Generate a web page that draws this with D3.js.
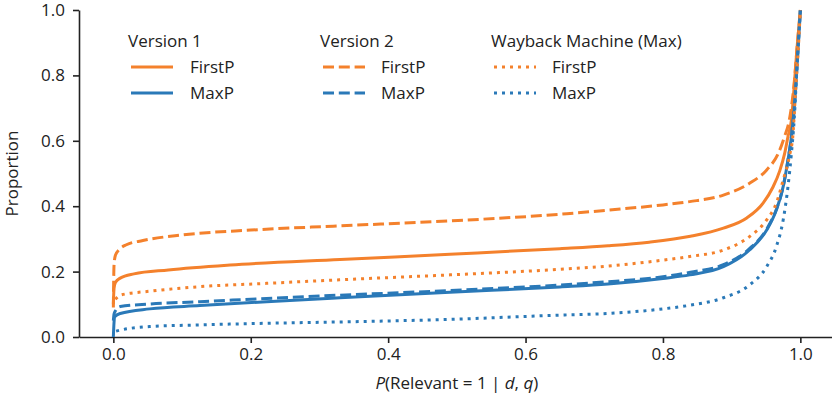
<!DOCTYPE html>
<html>
<head>
<meta charset="utf-8">
<script src="https://cdn.jsdelivr.net/npm/d3@7"></script>
<style>
  body { margin: 0; background: #fff; }
  text { font-family: "Open Sans", sans-serif; fill: #222; }
</style>
</head>
<body>
<svg id="chart" width="832" height="403"></svg>
<script>
// ===== Daten =====
const xTicks = [0.0, 0.2, 0.4, 0.6, 0.8, 1.0];
const yTicks = [0.0, 0.2, 0.4, 0.6, 0.8, 1.0];

const v1FirstPX = [0, 0.001, 0.003, 0.01, 0.03, 0.08, 0.17, 0.33, 0.49, 0.65, 0.72, 0.78, 0.84, 0.888, 0.922, 0.946, 0.960, 0.970, 0.977, 0.982, 0.987, 0.991, 0.995, 1.0];
const v1FirstPY = [0.10, 0.15, 0.167, 0.18, 0.193, 0.205, 0.22, 0.237, 0.253, 0.27, 0.279, 0.29, 0.308, 0.333, 0.364, 0.41, 0.458, 0.508, 0.56, 0.613, 0.664, 0.766, 0.88, 1.0];

const v1MaxPX = [0, 0.001, 0.002, 0.01, 0.053, 0.126, 0.223, 0.33, 0.49, 0.65, 0.72, 0.80, 0.839, 0.888, 0.926, 0.951, 0.965, 0.975, 0.982, 0.987, 0.992, 0.996, 1.0];
const v1MaxPY = [0, 0.045, 0.062, 0.072, 0.086, 0.096, 0.108, 0.12, 0.137, 0.153, 0.162, 0.179, 0.19, 0.215, 0.266, 0.327, 0.388, 0.46, 0.541, 0.613, 0.725, 0.86, 1.0];

const v2FirstPX = [0, 0.001, 0.003, 0.008, 0.019, 0.043, 0.10, 0.20, 0.32, 0.49, 0.66, 0.72, 0.80, 0.839, 0.888, 0.926, 0.951, 0.968, 0.977, 0.984, 0.991, 0.995, 1.0];
const v2FirstPY = [0.09, 0.22, 0.25, 0.266, 0.282, 0.295, 0.312, 0.327, 0.339, 0.355, 0.377, 0.388, 0.404, 0.414, 0.434, 0.47, 0.511, 0.562, 0.613, 0.664, 0.776, 0.878, 1.0];

const v2MaxPX = [0, 0.001, 0.003, 0.01, 0.053, 0.126, 0.223, 0.33, 0.49, 0.65, 0.72, 0.80, 0.84, 0.888, 0.926, 0.951, 0.965, 0.975, 0.982, 0.987, 0.992, 0.996, 1.0];
const v2MaxPY = [0.05, 0.07, 0.08, 0.093, 0.101, 0.108, 0.118, 0.128, 0.142, 0.159, 0.169, 0.184, 0.198, 0.221, 0.27, 0.33, 0.39, 0.46, 0.541, 0.613, 0.725, 0.86, 1.0];

const wbFirstPX = [0.003, 0.01, 0.053, 0.126, 0.223, 0.33, 0.49, 0.65, 0.72, 0.80, 0.839, 0.888, 0.926, 0.951, 0.965, 0.975, 0.985, 0.989, 0.993, 0.997, 1.0];
const wbFirstPY = [0.115, 0.128, 0.14, 0.154, 0.164, 0.175, 0.19, 0.207, 0.217, 0.235, 0.246, 0.266, 0.307, 0.358, 0.409, 0.48, 0.562, 0.613, 0.75, 0.88, 1.0];

const wbMaxPX = [0.004, 0.01, 0.053, 0.126, 0.223, 0.33, 0.49, 0.65, 0.72, 0.80, 0.839, 0.888, 0.926, 0.951, 0.965, 0.975, 0.982, 0.987, 0.991, 0.995, 1.0];
const wbMaxPY = [0.018, 0.021, 0.032, 0.037, 0.042, 0.046, 0.054, 0.067, 0.072, 0.086, 0.097, 0.12, 0.159, 0.215, 0.276, 0.358, 0.46, 0.562, 0.664, 0.82, 1.0];

const groupTitles = ['Version 1', 'Version 2', 'Wayback Machine (Max)'];
const seriesNames = ['FirstP', 'MaxP'];

// Farben und Linienstile
const orange = '#f4812c';
const blue = '#2a79b8';
const dashStyles = [null, '11,4.8', '3,5'];

const series = [
  { xs: v1FirstPX, ys: v1FirstPY, color: orange, dash: dashStyles[0] },
  { xs: v1MaxPX, ys: v1MaxPY, color: blue, dash: dashStyles[0] },
  { xs: v2FirstPX, ys: v2FirstPY, color: orange, dash: dashStyles[1] },
  { xs: v2MaxPX, ys: v2MaxPY, color: blue, dash: dashStyles[1] },
  { xs: wbFirstPX, ys: wbFirstPY, color: orange, dash: dashStyles[2] },
  { xs: wbMaxPX, ys: wbMaxPY, color: blue, dash: dashStyles[2] }
];

// ===== Skalen =====
const svg = d3.select('#chart');
const x = d3.scaleLinear().domain([-0.05, 1.05]).range([79, 834.7]);
const y = d3.scaleLinear().domain([0, 1]).range([337, 10]);

// Achsen
const xAxis = svg.append('g')
  .attr('transform', `translate(0,${y(0)})`)
  .call(d3.axisBottom(x).tickValues(xTicks).tickFormat(d3.format('.1f')).tickSize(6).tickPadding(5).tickSizeOuter(0));

const yAxis = svg.append('g')
  .attr('transform', `translate(${x(-0.05)},0)`)
  .call(d3.axisLeft(y).tickValues(yTicks).tickFormat(d3.format('.1f')).tickSize(6).tickPadding(8).tickSizeOuter(0));

[xAxis, yAxis].forEach(a => {
  a.select('.domain').attr('stroke', '#222').attr('stroke-width', 1.6);
  a.selectAll('.tick line').attr('stroke', '#222').attr('stroke-width', 1.6);
  a.selectAll('.tick text').attr('font-size', 17).attr('font-family', '"Open Sans", sans-serif').attr('fill', '#222');
});

// Achsenbeschriftungen
svg.append('text')
  .attr('transform', `translate(18,${(y(0) + y(1)) / 2}) rotate(-90)`)
  .attr('text-anchor', 'middle')
  .attr('font-size', 17)
  .text('Proportion');

const xl = svg.append('text')
  .attr('x', x(0.5))
  .attr('y', 389)
  .attr('text-anchor', 'middle')
  .attr('font-size', 17);
xl.append('tspan').attr('font-style', 'italic').text('P');
xl.append('tspan').text('(Relevant = 1 | ');
xl.append('tspan').attr('font-style', 'italic').text('d');
xl.append('tspan').text(', ');
xl.append('tspan').attr('font-style', 'italic').text('q');
xl.append('tspan').text(')');

// ===== Linien =====
const line = d3.line()
  .x(d => x(d[0]))
  .y(d => y(d[1]))
  .curve(d3.curveMonotoneX);

svg.append('g')
  .selectAll('path')
  .data(series)
  .enter().append('path')
  .attr('d', s => line(d3.zip(s.xs, s.ys)))
  .attr('fill', 'none')
  .attr('stroke', s => s.color)
  .attr('stroke-width', 3)
  .attr('stroke-dasharray', s => s.dash);

// ===== Legende =====
const legendCols = [
  { title: 128, lineX: 131, textX: 190 },
  { title: 320, lineX: 323, textX: 381 },
  { title: 491, lineX: 494, textX: 552 }
];
const rowY = [67, 93];
const rowColors = [orange, blue];

legendCols.forEach((c, i) => {
  const g = svg.append('g');
  g.append('text').attr('x', c.title).attr('y', 47).attr('font-size', 17).text(groupTitles[i]);
  seriesNames.forEach((name, j) => {
    g.append('line')
      .attr('x1', c.lineX).attr('x2', c.lineX + 42)
      .attr('y1', rowY[j]).attr('y2', rowY[j])
      .attr('stroke', rowColors[j])
      .attr('stroke-width', 3)
      .attr('stroke-dasharray', dashStyles[i]);
    g.append('text').attr('x', c.textX).attr('y', rowY[j] + 6).attr('font-size', 17).text(name);
  });
});
</script>
</body>
</html>
